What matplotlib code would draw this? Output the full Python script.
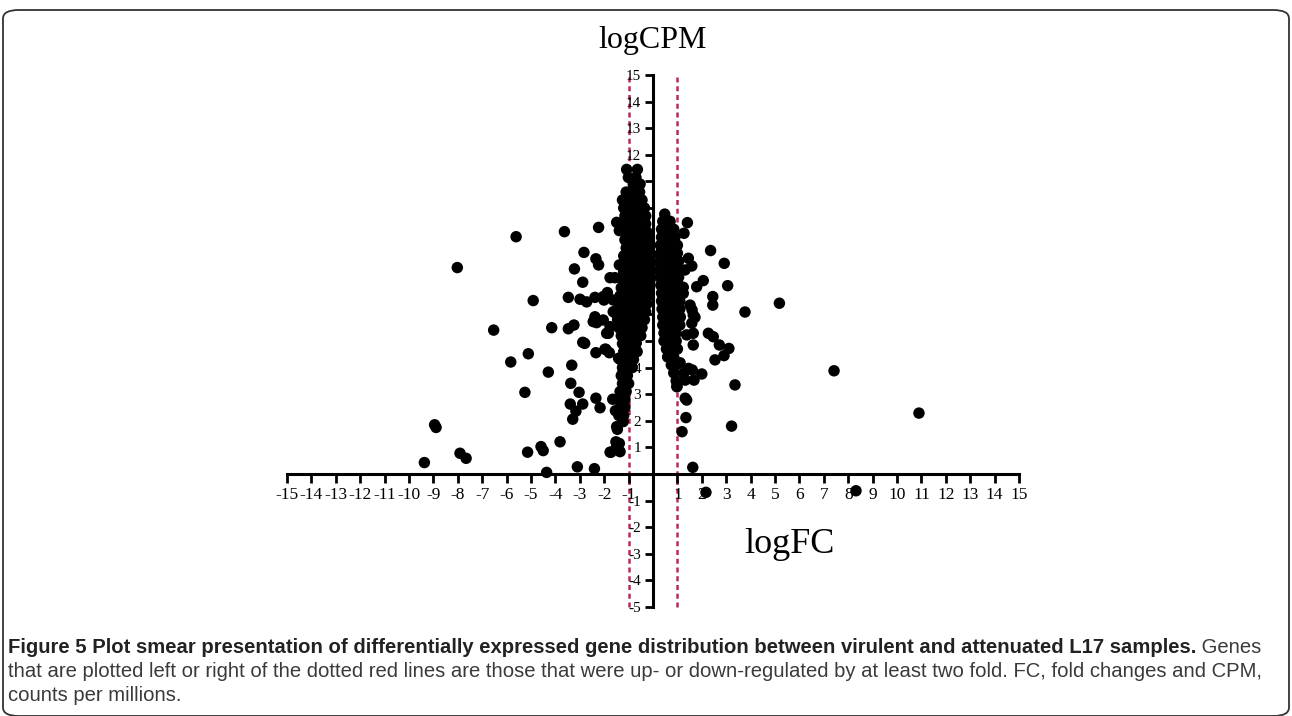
import matplotlib
matplotlib.use("Agg")
import matplotlib.pyplot as plt
from matplotlib.patches import FancyBboxPatch

plt.rcParams['axes.unicode_minus'] = False

# --- scattered genes (logFC, logCPM) ---
left_x = [-5.61, -8.02, -3.63, -2.23, -1.49, -2.83, -2.34, -2.23, -3.22, -2.88,
          -1.76, -1.56, -3.47, -4.91, -2.99, -2.72, -2.38, -2.01, -1.87, -6.53,
          -4.15, -3.47, -3.24, -2.38, -2.31, -2.45, -1.76, -1.83, -1.63, -2.88,
          -2.80, -2.34, -1.93, -1.79, -1.41, -5.11, -5.83, -4.29, -3.33, -3.37,
          -3.03, -5.25, -3.39, -2.88, -3.16, -3.29, -2.34, -2.17, -1.65, -1.54,
          -1.46, -1.52, -1.72, -8.89, -8.95, -7.91, -7.66, -9.37, -5.14, -4.59,
          -4.50, -3.81, -4.36, -3.10, -2.40, -1.38, -1.38, -2.04, -1.63, -1.52,
          -2.38, -2.04, -1.90, -1.35, -1.22, -1.22, -1.49, -1.38, -1.28, -1.22,
          -1.11, -1.97, -1.76, -1.49, -1.35]
left_y = [8.92, 7.76, 9.11, 9.27, 9.46, 8.33, 8.09, 7.86, 7.71, 7.21,
          7.38, 7.38, 6.64, 6.52, 6.57, 6.47, 6.64, 6.54, 6.82, 5.41,
          5.50, 5.46, 5.60, 5.91, 5.69, 5.73, 5.54, 5.29, 6.10, 4.95,
          4.91, 4.56, 4.69, 4.56, 4.35, 4.52, 4.21, 3.83, 4.09, 3.41,
          3.07, 3.07, 2.63, 2.63, 2.36, 2.06, 2.85, 2.49, 2.81, 2.38,
          1.68, 1.21, 0.82, 1.75, 1.85, 0.78, 0.59, 0.43, 0.82, 1.03,
          0.88, 1.21, 0.06, 0.27, 0.20, 7.86, 9.15, 6.67, 6.54, 6.04,
          5.79, 5.79, 5.29, 4.31, 3.85, 1.97, 1.78, 1.15, 2.28, 2.97,
          3.35, 4.69, 0.82, 1.03, 0.84]

right_x = [1.41, 1.27, 2.36, 2.92, 2.06, 1.79, 3.06, 2.45, 2.45, 5.18,
           3.77, 1.52, 1.65, 1.72, 2.27, 2.47, 2.72, 3.11, 2.91, 2.54,
           1.61, 2.00, 1.68, 3.36, 7.42, 1.38, 1.35, 1.19, 3.22, 1.63,
           1.38, 1.65, 1.65, 1.27, 1.11, 1.59, 1.45, 1.59, 1.31, 1.24,
           1.24, 1.60, 1.46, 1.32, 0.98, 1.32, 10.90, 2.17, 8.32]
right_y = [9.45, 9.05, 8.40, 7.92, 7.27, 7.04, 7.08, 6.67, 6.35, 6.42,
           6.09, 6.35, 5.98, 5.89, 5.29, 5.16, 4.85, 4.72, 4.45, 4.29,
           3.91, 3.76, 3.53, 3.35, 3.88, 2.78, 2.12, 1.59, 1.80, 0.25,
           5.23, 5.29, 4.85, 3.79, 4.18, 5.67, 8.11, 7.82, 7.67, 7.02,
           6.79, 6.17, 3.97, 3.53, 3.28, 2.85, 2.29, -0.69, -0.63]

# --- the two dense columns near logFC = 0, row by row (logCPM: logFC values) ---
left_dense = {
    11.45: [-1.08, -0.64], 11.15: [-1.01, -0.70], 10.9: [-0.81, -0.53],
    10.6: [-1.10, -0.85, -0.55], 10.3: [-1.25, -1.00, -0.70, -0.45],
    10.0: [-1.20, -0.95, -0.65, -0.35], 9.7: [-1.15, -0.90, -0.60, -0.30],
    9.4: [-1.20, -0.95, -0.65, -0.30], 9.1: [-1.10, -0.85, -0.55, -0.25],
    8.8: [-1.15, -0.90, -0.60, -0.30, -0.15], 8.5: [-1.10, -0.85, -0.55, -0.25, -0.15],
    8.2: [-1.20, -0.95, -0.65, -0.35, -0.10], 7.9: [-1.15, -0.90, -0.60, -0.30, -0.10],
    7.6: [-1.20, -0.95, -0.65, -0.35, -0.10], 7.3: [-1.25, -1.00, -0.70, -0.40, -0.12],
    7.0: [-1.30, -1.05, -0.75, -0.45, -0.15], 6.7: [-1.35, -1.10, -0.80, -0.50, -0.20],
    6.4: [-1.40, -1.15, -0.85, -0.55, -0.25], 6.1: [-1.50, -1.20, -0.90, -0.60, -0.30],
    5.8: [-1.45, -1.15, -0.85, -0.55, -0.35], 5.5: [-1.40, -1.10, -0.80, -0.45],
    5.2: [-1.30, -1.05, -0.75, -0.50], 4.9: [-1.25, -1.00, -0.70],
    4.6: [-1.20, -0.95, -0.65], 4.3: [-1.30, -1.05, -0.80], 4.0: [-1.25, -1.00, -0.85],
    3.7: [-1.30, -1.05], 3.4: [-1.25, -1.00], 3.1: [-1.35, -1.10],
    2.8: [-1.40, -1.15], 2.5: [-1.35, -1.15], 2.2: [-1.40, -1.20],
}
right_dense = {
    9.77: [0.48], 9.5: [0.40, 0.70], 9.2: [0.35, 0.60, 0.85], 8.9: [0.35, 0.60, 0.90],
    8.6: [0.30, 0.55, 0.80, 1.00], 8.3: [0.30, 0.55, 0.80, 1.00],
    8.0: [0.30, 0.55, 0.80, 1.05], 7.7: [0.30, 0.55, 0.80, 1.05],
    7.4: [0.30, 0.55, 0.80, 1.05], 7.1: [0.32, 0.57, 0.82, 1.05],
    6.8: [0.35, 0.60, 0.85, 1.10], 6.5: [0.35, 0.60, 0.85, 1.10],
    6.2: [0.37, 0.62, 0.87, 1.10], 5.9: [0.40, 0.65, 0.90, 1.12],
    5.6: [0.40, 0.65, 0.90, 1.10], 5.3: [0.45, 0.70, 0.95], 5.0: [0.45, 0.70, 0.95],
    4.7: [0.55, 0.80, 1.00], 4.4: [0.60, 0.85], 4.1: [0.75, 0.95],
    3.8: [0.85], 3.5: [0.95], 3.3: [0.98],
}

x_ticks = [i for i in range(-15, 16) if i != 0]
y_ticks = [i for i in range(-5, 16) if i != 0]
fc_cutoff = [-1, 1]

fig = plt.figure(figsize=(12.92, 7.16), dpi=100)
ax = fig.add_axes([0, 0, 1, 1])
ax.patch.set_visible(False)

# pixel mapping of the original: x0 = 653px, 24.4 px/unit ; y0 = 474px, 26.6 px/unit
ax.set_xlim(-653 / 24.4, (1292 - 653) / 24.4)
ax.set_ylim((474 - 716) / 26.6, 474 / 26.6)

for c in fc_cutoff:
    ax.plot([c, c], [-5, 15], color='#c2245f', lw=1.8, ls=(0, (2.0, 1.5)), zorder=1)

dx = [x for row in left_dense.values() for x in row] + [x for row in right_dense.values() for x in row]
dy = [y for y, row in left_dense.items() for _ in row] + [y for y, row in right_dense.items() for _ in row]
ax.scatter(left_x + right_x + dx, left_y + right_y + dy, s=68, color='black',
           edgecolors='none', zorder=3)

for side in ('top', 'right'):
    ax.spines[side].set_visible(False)
ax.spines['left'].set_position(('data', 0))
ax.spines['bottom'].set_position(('data', 0))
ax.spines['left'].set_bounds(-5, 15)
ax.spines['bottom'].set_bounds(-15, 15)
for s in ('left', 'bottom'):
    ax.spines[s].set_linewidth(2.2)
    ax.spines[s].set_zorder(2)

ax.set_xticks(x_ticks)
ax.set_xticklabels([str(t) for t in x_ticks], family='Liberation Serif', fontsize=12.5)
ax.set_yticks(y_ticks)
ax.set_yticklabels([str(t) for t in y_ticks], family='Liberation Serif', fontsize=11)
ax.tick_params(axis='x', direction='out', length=6.5, width=2, pad=3)
ax.tick_params(axis='y', direction='out', length=5.5, width=2, pad=3)

ax.text(0, 16.3, 'logCPM', ha='center', va='center', family='Liberation Serif', fontsize=23)
ax.text(5.6, -2.65, 'logFC', ha='center', va='center', family='Liberation Serif', fontsize=26)

# frame round the whole figure
box = FancyBboxPatch((3 / 1292, 0.0), 1286 / 1292, 706 / 716,
                     boxstyle='round,pad=0,rounding_size=0.012',
                     transform=fig.transFigure, fill=False, ec='#333333', lw=1.3)
fig.patches.append(box)

# caption
cap_font = ['Liberation Sans Narrow', 'Liberation Sans']
bold_part = ('Figure 5 Plot smear presentation of differentially expressed gene '
             'distribution between virulent and attenuated L17 samples.')
line1_rest = ' Genes'
line2 = ('that are plotted left or right of the dotted red lines are those that were '
         'up- or down-regulated by at least two fold. FC, fold changes and CPM,')
line3 = 'counts per millions.'

renderer = fig.canvas.get_renderer()
x_left = 8 / 1292
t2 = fig.text(x_left, 1 - 677 / 716, line2, family=cap_font, fontsize=12, color='#3a3a3a')
w2 = t2.get_window_extent(renderer).width
fs = 12 * 1254 / w2
t2.set_fontsize(fs)
fig.text(x_left, 1 - 701 / 716, line3, family=cap_font, fontsize=fs, color='#3a3a3a')

t1 = fig.text(x_left, 1 - 653 / 716, bold_part, family=cap_font, fontsize=fs,
              weight='bold', color='#222222')
w1 = t1.get_window_extent(renderer).width
fig.text(x_left + w1 / 1292, 1 - 653 / 716, line1_rest, family=cap_font, fontsize=fs,
         color='#3a3a3a')

fig.savefig('out.png', dpi=100)
